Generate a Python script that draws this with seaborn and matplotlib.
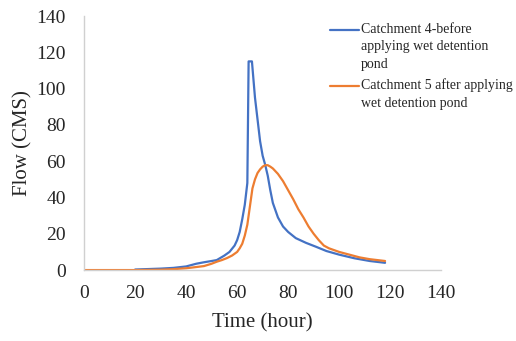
import matplotlib
matplotlib.use("Agg")
import matplotlib.pyplot as plt
from matplotlib.legend_handler import HandlerLine2D
import seaborn as sns
import pandas as pd

# Hydrograph for catchment 4 (before pond)
hours_before = [20, 30, 35, 40, 44, 47, 50, 52, 55, 57, 59, 60, 61, 62, 63, 64, 64.5, 65.8,
                67, 68, 69, 70, 71, 72, 73, 74, 75, 76, 78, 80, 83, 87, 91, 95, 100, 106,
                112, 118]
flow_before = [0.3, 0.8, 1.2, 2, 3.5, 4.3, 5, 5.5, 8, 10, 13.5, 16.5, 21, 28, 36, 48, 115, 115,
               95, 83, 71, 63, 58, 52, 44, 37, 33, 29, 24, 21, 17.6, 15, 12.8, 10.5, 8.5, 6.5,
               5, 4]

# Hydrograph for catchment 5 (after wet detention pond)
hours_after = [0, 10, 20, 30, 35, 40, 43, 47, 50, 52, 54, 56, 58, 60, 61, 62, 63, 64, 65, 66,
               67, 68, 69, 70, 71, 72, 73, 74, 76, 78, 80, 82, 84, 86, 88, 90, 92, 94, 96,
               98, 100, 104, 108, 112, 118]
flow_after = [0, 0, 0, 0.2, 0.5, 1, 1.5, 2.2, 3.5, 4.6, 5.5, 6.6, 8, 10, 12, 14.5, 19, 25, 35, 45,
              50, 53.5, 55.5, 57, 57.8, 57.8, 57, 56, 53, 49, 44, 39, 33.5, 29, 24, 20, 16.5,
              13.5, 12, 11, 10, 8.5, 7, 6, 5]

label_before = "Catchment 4-before\napplying wet detention\npond"
label_after = "Catchment 5 after applying\nwet detention pond"

df = pd.concat([
    pd.DataFrame({"hour": hours_before, "flow": flow_before, "series": label_before}),
    pd.DataFrame({"hour": hours_after, "flow": flow_after, "series": label_after}),
], ignore_index=True)


class FirstLineHandler(HandlerLine2D):
    """Legend line aligned with the first line of a multi-line label."""

    def __init__(self, lines, step, **kw):
        super().__init__(**kw)
        self.lines = lines
        self.step = step

    def create_artists(self, legend, orig_handle, xdescent, ydescent,
                       width, height, fontsize, trans):
        # the line sits at (height - ydescent) / 2, so the shift is doubled
        shift = (self.lines - 1) * self.step
        return super().create_artists(legend, orig_handle, xdescent,
                                      ydescent - shift, width, height,
                                      fontsize, trans)


sns.set_style("white")
plt.rcParams["font.family"] = ["Liberation Serif", "DejaVu Serif"]

fig = plt.figure(figsize=(5.16, 3.41), dpi=100)
ax = fig.add_axes([0.163, 0.208, 0.692, 0.745])

colors = {label_before: "#4472C4", label_after: "#ED7D31"}
sns.lineplot(data=df, x="hour", y="flow", hue="series", palette=colors,
             linewidth=1.6, ax=ax, legend=True, sort=True)

ax.set_xlim(0, 140)
ax.set_ylim(0, 140)
ax.set_xticks(range(0, 141, 20))
ax.set_yticks(range(0, 141, 20))
ax.tick_params(axis="both", labelsize=14, length=0)
ax.tick_params(axis="y", pad=13)
ax.tick_params(axis="x", pad=11)
ax.set_xlabel("Time (hour)", fontsize=15, labelpad=8)
ax.set_ylabel("Flow (CMS)", fontsize=15, labelpad=3)

for side in ("top", "right"):
    ax.spines[side].set_visible(False)
for side in ("left", "bottom"):
    ax.spines[side].set_color("#D0D0D0")
    ax.spines[side].set_linewidth(1.0)

leg_fs = 10
line_step = 12.2  # points between text lines
handles, labels = ax.get_legend_handles_labels()
hmap = {h: FirstLineHandler(lab.count("\n") + 1, line_step)
        for h, lab in zip(handles, labels)}
leg = ax.legend(handles, labels, loc="upper left", bbox_to_anchor=(0.673, 0.995),
                frameon=False, fontsize=leg_fs, handlelength=2.1, handletextpad=0.15,
                labelspacing=0.55, borderaxespad=0, handler_map=hmap)
for t in leg.get_texts():
    t.set_linespacing(1.45)
for h in leg.get_lines():
    h.set_linewidth(1.6)

fig.savefig("out.png", dpi=100)
